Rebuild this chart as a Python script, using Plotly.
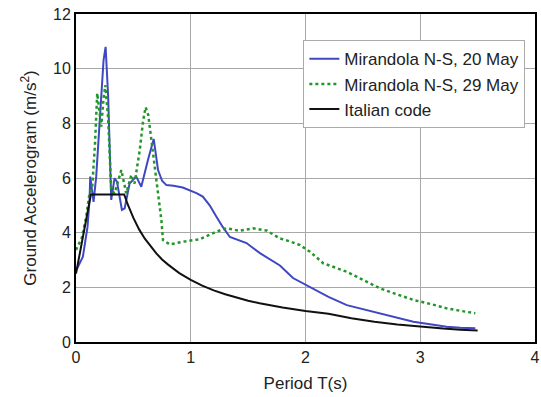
import plotly.graph_objects as go

# Mirandola N-S, 20 May (blue)
t_may20 = [0.0, 0.06, 0.10, 0.118, 0.124, 0.153, 0.176, 0.21, 0.24, 0.258, 0.28, 0.307, 0.336, 0.357,
           0.40, 0.424, 0.467, 0.525, 0.569, 0.627, 0.677, 0.715, 0.75, 0.788, 0.85, 0.93, 0.991,
           1.05, 1.105, 1.165, 1.224, 1.28, 1.341, 1.41, 1.486, 1.603, 1.70, 1.777, 1.891, 2.04,
           2.20, 2.36, 2.50, 2.65, 2.80, 2.94, 3.10, 3.23, 3.35, 3.48]
a_may20 = [2.6, 3.12, 4.2, 5.2, 6.05, 5.13, 6.05, 8.3, 10.3, 10.8, 9.0, 5.2, 5.99, 5.87,
           4.83, 4.89, 5.8, 6.05, 5.68, 6.66, 7.43, 6.29, 5.9, 5.74, 5.72, 5.65, 5.56,
           5.45, 5.32, 5.0, 4.58, 4.2, 3.84, 3.74, 3.62, 3.25, 3.0, 2.8, 2.34, 2.02,
           1.65, 1.35, 1.2, 1.05, 0.9, 0.74, 0.64, 0.56, 0.52, 0.50]

# Mirandola N-S, 29 May (green dotted)
t_may29 = [0.0, 0.05, 0.089, 0.118, 0.14, 0.165, 0.185, 0.20, 0.22, 0.24, 0.255, 0.28, 0.307, 0.336,
           0.395, 0.438, 0.482, 0.51, 0.555, 0.585, 0.607, 0.63, 0.657, 0.70, 0.744, 0.758, 0.817,
           0.933, 1.079, 1.224, 1.31, 1.428, 1.545, 1.66, 1.777, 1.836, 1.95, 2.04, 2.155, 2.36,
           2.50, 2.65, 2.80, 2.94, 3.10, 3.23, 3.35, 3.48]
a_may29 = [3.37, 3.8, 4.58, 5.45, 5.6, 7.2, 9.1, 8.5, 7.88, 8.9, 9.4, 8.2, 5.56, 5.44,
           6.29, 5.44, 6.11, 5.8, 7.0, 8.1, 8.59, 8.3, 7.39, 5.8, 4.46, 3.73, 3.57,
           3.67, 3.76, 4.04, 4.16, 4.07, 4.16, 4.08, 3.79, 3.72, 3.55, 3.3, 2.88, 2.57,
           2.28, 1.96, 1.74, 1.54, 1.38, 1.23, 1.14, 1.05]

# Italian code (black)
t_code = [0.0, 0.13, 0.42, 0.45, 0.5, 0.55, 0.6, 0.65, 0.7, 0.75, 0.8, 0.9, 1.0, 1.1, 1.2, 1.3,
          1.4, 1.5, 1.6, 1.8, 2.0, 2.2, 2.4, 2.6, 2.8, 3.0, 3.2, 3.35, 3.5]
a_code = [2.5, 5.4, 5.4, 5.04, 4.54, 4.12, 3.78, 3.49, 3.24, 3.02, 2.84, 2.52, 2.27, 2.06, 1.89, 1.75,
          1.62, 1.51, 1.42, 1.26, 1.13, 1.03, 0.87, 0.74, 0.64, 0.56, 0.49, 0.45, 0.42]

series_names = ["Mirandola N-S, 20 May", "Mirandola N-S, 29 May", "Italian code"]
x_ticks = [0, 1, 2, 3, 4]
y_ticks = [0, 2, 4, 6, 8, 10, 12]

fig = go.Figure()
fig.add_trace(go.Scatter(x=t_may20, y=a_may20, mode="lines", name=series_names[0],
                         line=dict(color="#3f47c2", width=2)))
fig.add_trace(go.Scatter(x=t_may29, y=a_may29, mode="lines", name=series_names[1],
                         line=dict(color="#23962a", width=2.5, dash="dot")))
fig.add_trace(go.Scatter(x=t_code, y=a_code, mode="lines", name=series_names[2],
                         line=dict(color="#111111", width=2)))

font_family = "Liberation Sans, Arial, sans-serif"
fig.update_layout(
    width=541, height=397,
    margin=dict(l=76, r=6, t=14, b=55),
    paper_bgcolor="white", plot_bgcolor="white",
    font=dict(family=font_family, size=16, color="#222222"),
    showlegend=True,
    legend=dict(x=0.979, y=0.92, xanchor="right", yanchor="top",
                bgcolor="white", bordercolor="#aaaaaa", borderwidth=1,
                font=dict(size=17, color="#222222"), itemwidth=30,
                tracegroupgap=0),
)
fig.update_xaxes(range=[0, 4], tickvals=x_ticks, showgrid=True, gridcolor="#a8a8a8", gridwidth=1,
                 showline=True, linecolor="black", linewidth=2, mirror=True, zeroline=False,
                 automargin=False, ticks="",
                 title=dict(text="Period T(s)", standoff=12, font=dict(size=17)))
fig.update_yaxes(range=[0, 12], tickvals=y_ticks, showgrid=True, gridcolor="#a8a8a8", gridwidth=1,
                 showline=True, linecolor="black", linewidth=2, mirror=True, zeroline=False,
                 automargin=False, ticks="",
                 title=dict(text="Ground Accelerogram (m/s<sup>2</sup>)", standoff=12, font=dict(size=17)))

# remove the default page margin so the figure fills the window exactly
fig.write_html("out.html", config={"displayModeBar": False},
               post_script="document.body.style.margin='0px';")
